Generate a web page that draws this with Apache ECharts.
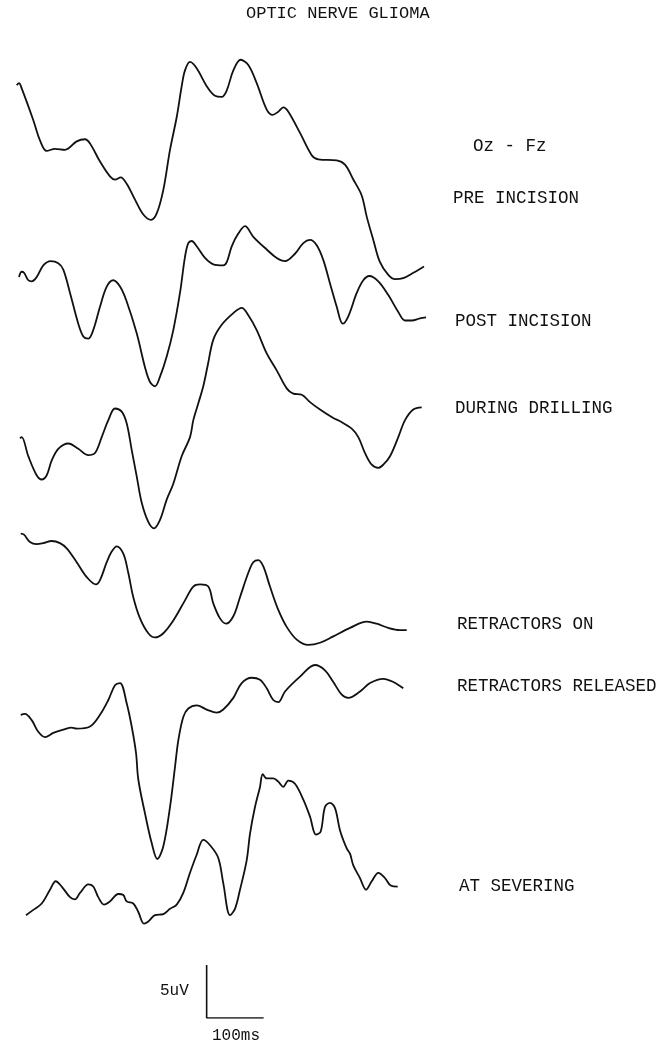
<!DOCTYPE html>
<html>
<head>
<meta charset="utf-8">
<script src="https://cdn.jsdelivr.net/npm/echarts@6/dist/echarts.min.js"></script>
<style>
  html, body { margin: 0; padding: 0; background: #fff; }
  #chart { width: 668px; height: 1043px; }
</style>
</head>
<body>
<div id="chart"></div>
<script>
// Visual evoked potentials, Oz - Fz, recorded at successive surgical stages.
// Each trace: [time (ms), amplitude (uV) relative to the trace baseline].

const preIncision = [
  [11.8, 8.0], [15.8, 8.2], [20.5, 7.7], [40.9, 4.7], [52.6, 2.8], [64.4, 1.8], [79, 2.0],
  [96.5, 1.9], [117, 2.7], [131.6, 2.9], [140.4, 2.5], [157.9, 0.8], [175.4, -0.6],
  [184.2, -0.9], [194.2, -0.7], [204.7, -1.3], [219.3, -2.8], [233.9, -4.2], [247.4, -4.7],
  [257.4, -4.1], [268.9, -1.9], [280.7, 1.9], [292.5, 5.0], [301.2, 7.9], [307, 9.4],
  [315.8, 10.2], [327.5, 9.6], [345.1, 7.9], [359.6, 7.0], [371.4, 6.9], [380.2, 7.5],
  [391.8, 9.4], [404.7, 10.4], [418.1, 9.9], [432.8, 8.2], [450.4, 5.7], [460.9, 5.2],
  [470.7, 5.5], [479.5, 5.9], [488.3, 5.5], [508.8, 3.5], [529.3, 1.4], [540.9, 1.0],
  [573.2, 0.9], [587.7, 0.5], [602.3, -0.9], [617, -2.4], [625.8, -4.4], [637.4, -6.6],
  [649.1, -8.7], [663.7, -9.9], [675.4, -10.3], [690, -10.2], [707.5, -9.7], [726.3, -9.1]
];

const postIncision = [
  [15.8, 0.9], [20.5, 1.4], [24.6, 1.3], [32.1, 0.6], [38.1, 0.5], [46.8, 0.9], [58.4, 2.0],
  [71.4, 2.4], [84.7, 2.2], [93.5, 1.6], [105.3, -0.6], [119.8, -3.5], [128.6, -4.7],
  [137.4, -4.9], [146.1, -4.1], [157.9, -1.9], [169.7, 0.0], [181.2, 0.6], [193, 0.0],
  [204.7, -1.4], [222.3, -4.4], [236.8, -7.6], [245.6, -9.0], [254.4, -9.4], [263.2, -8.5],
  [274.9, -6.6], [286.5, -4.1], [298.2, -0.6], [307, 2.8], [312.8, 4.1], [318.8, 4.3],
  [327.5, 3.8], [342.1, 2.7], [356.7, 2.1], [374.2, 2.0], [380.2, 2.3], [389, 3.8],
  [400.5, 5.0], [412.3, 5.7], [426.8, 4.7], [450.4, 3.5], [467.9, 2.7], [482.5, 2.4],
  [500, 3.1], [514.6, 4.1], [526.3, 4.4], [538.1, 3.9], [549.7, 2.5], [561.4, 0.3],
  [573.2, -1.9], [583.7, -3.5], [593.5, -2.8], [608.3, -0.6], [619.8, 0.6], [630.4, 1.0],
  [646.2, 0.5], [663.7, -0.8], [681.2, -2.4], [693, -3.2], [704.8, -3.2], [719.3, -3.0],
  [729.8, -2.9]
];

const duringDrilling = [
  [17.5, -0.3], [20.5, -0.2], [32.1, -2.0], [46.8, -3.8], [55.6, -4.2], [64.4, -3.8],
  [73.2, -2.4], [84.7, -1.3], [102.3, -0.8], [119.8, -1.3], [137.4, -1.9], [149.1, -1.7],
  [160.9, -0.2], [172.5, 1.4], [184.2, 2.5], [196, 2.2], [204.7, 1.1], [213.5, -1.4],
  [222.3, -3.9], [231.1, -6.4], [242.6, -8.2], [252.6, -8.8], [263.2, -8.0], [274.9, -6.1],
  [286.5, -4.6], [301.2, -2.0], [315.8, -0.2], [321.6, 1.4], [330.4, 3.0], [339.1, 4.6],
  [347, 6.6], [356.7, 9.0], [371.4, 10.4], [391.8, 11.5], [406.5, 12.0], [418.1, 11.3],
  [432.8, 9.9], [450.4, 7.7], [467.9, 6.1], [485.4, 4.4], [497, 3.9], [511.8, 3.8],
  [526.3, 3.1], [543.9, 2.4], [567.2, 1.6], [579, 1.3], [599.5, 0.6], [611.1, -0.2],
  [622.8, -1.7], [634.6, -2.8], [646.2, -3.1], [654.9, -2.8], [666.7, -2.0], [681.2, -0.2],
  [693, 1.4], [707.5, 2.4], [722.3, 2.6]
];

const retractorsOn = [
  [18.8, 4.7], [24.6, 4.6], [35.1, 3.9], [46.8, 3.7], [58.4, 3.8], [73.2, 4.0], [87.7, 3.8],
  [99.5, 3.3], [117, 2.0], [134.6, 0.6], [150.9, -0.1], [157.9, 0.3], [169.7, 2.0],
  [178.4, 3.0], [187.2, 3.5], [198.8, 2.8], [207.5, 1.0], [216.3, -1.3], [228.1, -3.3],
  [242.6, -4.7], [254.4, -5.1], [269, -4.7], [286.5, -3.5], [307, -1.6], [321.6, -0.3],
  [333.3, -0.1], [347.9, -0.3], [356.7, -1.9], [368.4, -3.3], [379, -3.8], [391.8, -3.1],
  [403.5, -1.3], [418.1, 1.0], [426.8, 2.0], [435.6, 2.2], [444.4, 1.6], [456.1, -0.3],
  [470.7, -2.5], [485.4, -4.1], [503, -5.3], [523.3, -5.8], [543.9, -5.6], [567.2, -5.0],
  [596.5, -4.2], [625.8, -3.6], [643.3, -3.8], [663.7, -4.2], [684.2, -4.4], [696, -4.4]
];

const retractorsReleased = [
  [18.8, -0.4], [26.3, -0.3], [38.1, -0.9], [49.6, -2.0], [61.4, -2.5], [76, -2.1],
  [93.5, -1.8], [108.2, -1.6], [117, -1.7], [140.4, -1.5], [157.9, -0.4], [172.5, 1.0],
  [184.2, 2.4], [193, 2.6], [204.7, 0.7], [213.5, -1.5], [221.1, -4.0], [225.1, -6.5],
  [236.8, -9.7], [248.6, -12.5], [258.4, -14.0], [269, -12.8], [280.7, -9.1], [289.5, -5.3],
  [295.3, -2.8], [304, -0.6], [312.8, 0.2], [327.5, 0.5], [345.1, 0.1], [362.6, -0.2],
  [374.2, 0.1], [391.8, 1.2], [406.5, 2.6], [424, 3.1], [438.6, 2.9], [450.4, 2.1],
  [461.9, 1.0], [470.7, 0.8], [482.5, 1.8], [508.8, 3.2], [535.1, 4.3], [552.6, 3.8],
  [567.2, 2.7], [582, 1.5], [593.5, 1.2], [614, 1.8], [631.6, 2.6], [654.9, 3.0],
  [672.5, 2.7], [690, 2.1]
];

const atSevering = [
  [28.1, -4.3], [40.9, -3.8], [55.6, -3.2], [70.2, -1.9], [80.2, -1.1], [90.7, -1.6],
  [105.3, -2.6], [114, -2.8], [122.8, -2.2], [137.4, -1.4], [146.1, -1.6], [154.9, -2.6],
  [164.9, -3.3], [175.4, -3.0], [190, -2.3], [198.8, -2.4], [204.7, -3.0], [216.3, -3.2],
  [225.1, -4.0], [235.1, -5.1], [242.6, -4.9], [254.4, -4.3], [269, -4.2], [280.7, -3.7],
  [292.5, -3.3], [304, -2.2], [315.8, -0.3], [327.5, 1.4], [339.1, 2.8], [350.9, 2.3],
  [365.4, 1.1], [374.2, -1.3], [386, -4.3], [394.7, -3.7], [403.5, -1.9], [415.3, 0.9],
  [421.1, 3.4], [429.8, 5.9], [438.6, 7.8], [443.4, 9.0], [450.4, 8.6], [462, 8.6],
  [470.7, 8.3], [479.5, 7.8], [488.3, 8.4], [500, 8.1], [514.6, 6.6], [526.3, 5.0],
  [536.8, 3.3], [545.1, 3.6], [552.6, 5.9], [561.4, 6.3], [570.2, 5.8], [579, 3.7],
  [590.7, 2.0], [596.5, 1.5], [602.3, 0.4], [614, -0.8], [624.6, -1.9], [634.6, -1.1],
  [646.2, -0.3], [657.9, -0.8], [667.9, -1.5], [680.2, -1.6]
];

const traces = [preIncision, postIncision, duringDrilling, retractorsOn, retractorsReleased, atSevering];
const stageLabels = ['PRE INCISION', 'POST INCISION', 'DURING DRILLING', 'RETRACTORS ON', 'RETRACTORS RELEASED', 'AT SEVERING'];

// Calibration bar: 5 uV vertical, 100 ms horizontal
const scaleBarMs = 100;
const scaleBarUv = 5;

// Layout: vertical stacking offset (uV) of each trace, and where the bar sits
const traceOffsets = [80, 69, 55, 41, 29, 14];
const scaleBarStart = 345;
const labelY = [198, 321, 408, 624, 686, 886];
const labelX = [453, 455, 455, 457, 457, 459];

const ink = '#111111';
const font = '"Liberation Mono", "DejaVu Sans Mono", monospace';

const series = traces.map((tr, i) => ({
  type: 'line',
  data: tr.map(p => [p[0], p[1] + traceOffsets[i]]),
  smooth: 0.35,
  symbol: 'none',
  lineStyle: { color: ink, width: 1.8 },
  silent: true,
  animation: false
}));

series.push({
  type: 'line',
  data: [[scaleBarStart, scaleBarUv], [scaleBarStart, 0], [scaleBarStart + scaleBarMs, 0]],
  symbol: 'none',
  lineStyle: { color: ink, width: 1.6 },
  silent: true,
  animation: false
});

const textEls = stageLabels.map((t, i) => ({
  type: 'text', left: labelX[i], top: labelY[i] - 9,
  style: { text: t, font: '17.5px ' + font, fill: ink }
}));
textEls.push(
  { type: 'text', left: 473, top: 146 - 9, style: { text: 'Oz - Fz', font: '17.5px ' + font, fill: ink } },
  { type: 'text', left: 160, top: 992 - 9, style: { text: '5uV', font: '16px ' + font, fill: ink } },
  { type: 'text', left: 212, top: 1037 - 9, style: { text: '100ms', font: '16px ' + font, fill: ink } }
);

const chart = echarts.init(document.getElementById('chart'), null, { renderer: 'canvas' });
chart.setOption({
  backgroundColor: '#ffffff',
  animation: false,
  title: {
    text: 'OPTIC NERVE GLIOMA',
    left: 246, top: 5, padding: 0,
    textStyle: { fontFamily: font, fontSize: 17, fontWeight: 'normal', color: ink }
  },
  grid: { left: 10, right: 88, top: 11, bottom: 25 },
  xAxis: { type: 'value', min: 0, max: 1000, show: false },
  yAxis: { type: 'value', min: 0, max: 95, show: false },
  series: series,
  graphic: textEls
});
</script>
</body>
</html>
